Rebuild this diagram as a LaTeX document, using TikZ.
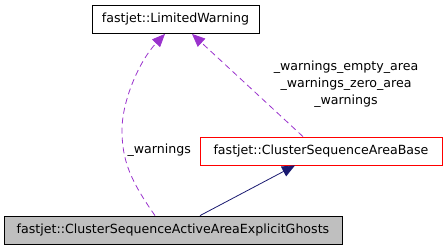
\documentclass[tikz,border=0pt]{standalone}
\usepackage{fontspec}
\setmainfont{DejaVu Sans}
\usetikzlibrary{arrows.meta}
\definecolor{usecol}{HTML}{9A32CD}
\definecolor{inhcol}{HTML}{191970}
\begin{document}
\begin{tikzpicture}
   [x=1pt, y=-1pt,
    font=\fontsize{12.6}{17}\selectfont,
    classbox/.style={draw, thick, minimum height=28pt, inner sep=0pt},
    usearrow/.style={usecol, thick, dash pattern=on 6pt off 4pt, -{Triangle[length=13pt, width=11pt]}},
    inharrow/.style={inhcol, thick, -{Triangle[length=13pt, width=11pt]}}]
   \useasboundingbox (0,0) rectangle (447,251);

   \node[classbox, minimum width=167pt] (warn) at (175.5,19.5) {fastjet::LimitedWarning};
   \node[classbox, draw=red, minimum width=242pt] (base) at (321,151) {fastjet::ClusterSequenceAreaBase};
   \node[classbox, fill=black!25, minimum width=338pt] (ghost) at (173,230) {fastjet::ClusterSequenceActiveAreaExplicitGhosts};

   \draw[usearrow] ([xshift=-18pt]ghost.north) .. controls (130,180) and (122,160) .. (122,130)
                        .. controls (122,100) and (140,60) .. ([xshift=-10.5pt]warn.south);
   \node[anchor=west] (lbl1) at (124,150) {\_warnings};

   \draw[usearrow] ([xshift=-18pt]base.north) -- ([xshift=16.5pt]warn.south);
   \node[align=center] (lbl2) at (346,84) {\_warnings\_empty\_area\\\_warnings\_zero\_area\\\_warnings};

   \draw[inharrow] ([xshift=27pt]ghost.north) -- ([xshift=-26pt]base.south);
\end{tikzpicture}
\end{document}
